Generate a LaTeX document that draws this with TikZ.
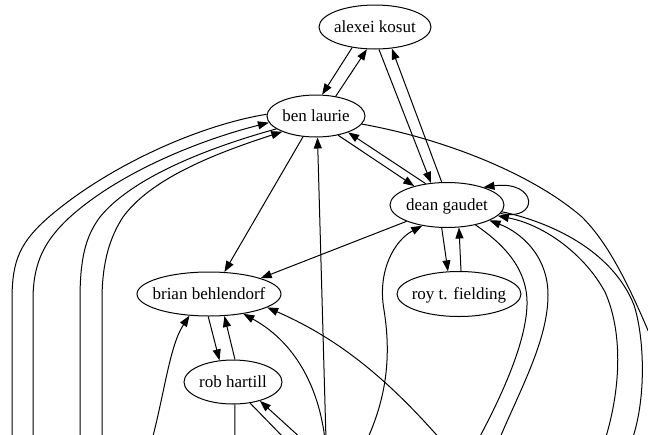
\documentclass[tikz,border=0pt]{standalone}
\usepackage{fontspec}
\setmainfont{Liberation Serif}
\usetikzlibrary{shapes.geometric,arrows.meta}
% zero-width label box so the ellipse size comes only from minimum width/height
\newcommand\persontext[1]{\makebox[0pt]{#1}}
\tikzset{
  person/.style={ellipse, draw, line width=1pt, inner sep=0pt,
    minimum height=44pt, text height=11pt, text depth=0pt,
    font=\fontsize{17}{20}\selectfont},
  link/.style={line width=1pt},
  arr/.style={-{Triangle[length=11pt,width=8pt]}}
}
\begin{document}
\begin{tikzpicture}[x=1pt,y=-1pt]
\useasboundingbox (0,0) rectangle (648,434);
\clip (0,0) rectangle (648,434);

% people
\node[person, minimum width=112pt] (alexei) at (375,27)  {\persontext{alexei kosut}};
\node[person, minimum width=98pt, minimum height=42pt] (ben) at (316,116) {\persontext{ben laurie}};
\node[person, minimum width=114pt, minimum height=45pt] (dean) at (447,205) {\persontext{dean gaudet}};
\node[person, minimum width=144pt] (brian) at (209,294) {\persontext{brian behlendorf}};
\node[person, minimum width=124pt, minimum height=45pt] (roy) at (459,294) {\persontext{roy t. fielding}};
\node[person, minimum width=98pt] (rob) at (233,382) {\persontext{rob hartill}};

% loose ends below and right of the frame
\coordinate (o1) at (12,440);
\coordinate (o2) at (33,440);
\coordinate (o3) at (80,440);
\coordinate (o4) at (102,440);
\coordinate (o5) at (152,440);
\coordinate (o6) at (235,440);
\coordinate (o7) at (286,440);
\coordinate (o8) at (303,440);
\coordinate (o9) at (325,440);
\coordinate (o10) at (326,440);
\coordinate (o11) at (367,440);
\coordinate (o12) at (441,440);
\coordinate (o13) at (478,440);
\coordinate (o14) at (499,440);
\coordinate (o15) at (605,440);
\coordinate (o16) at (632,440);
\coordinate (o17) at (652,340);

% alexei <-> ben, alexei <-> dean
\draw[link,arr] (alexei.-138) -- (ben.74);
\draw[link,arr] (ben.45) -- (alexei.-110);
\draw[link,arr] (alexei.-80) -- (dean.126);
\draw[link,arr] (dean.103) -- (alexei.-52);

% ben <-> dean
\draw[link,arr] (ben.-41) -- (dean.150);
\draw[link,arr] (dean.135) -- (ben.-27);

% dean to itself
\draw[link,arr] (dean.-9) .. controls (540,222) and (538,180) .. (dean.26);

% dean <-> roy
\draw[link,arr] (dean.-103) -- (roy.116);
\draw[link,arr] (roy.85) -- (dean.-62);

% into brian
\draw[link,arr] (dean.-158) -- (brian.17);
\draw[link,arr] (ben.-122) -- (brian.55);

% brian <-> rob
\draw[link,arr] (brian.-92) -- (rob.122);
\draw[link,arr] (rob.85) -- (brian.-55);

% ben: long curves to the left
\draw[link] (ben.178) .. controls (200,125) and (110,165) .. (50,216)
  .. controls (20,242) and (12,260) .. (12,300) -- (o1);
\draw[link,arr] (o2) -- (33,300) .. controls (33,262) and (45,240) .. (70,217)
  .. controls (120,172) and (200,140) .. (ben.-172);
\draw[link] (ben.-162) .. controls (200,150) and (130,180) .. (100,217)
  .. controls (85,237) and (80,260) .. (80,300) -- (o3);
\draw[link,arr] (o4) -- (102,300) .. controls (102,262) and (110,237) .. (123,217)
  .. controls (150,180) and (210,155) .. (ben.-155);

% ben: from below and the long arc to the right
\draw[link,arr] (o10) -- (ben.-86);
\draw[link] (ben.-10) .. controls (440,138) and (530,172) .. (582,217)
  .. controls (605,240) and (625,275) .. (o17);

% brian from below
\draw[link,arr] (o5) .. controls (165,390) and (170,345) .. (brian.-132);
\draw[link,arr] (o9) .. controls (320,395) and (300,345) .. (brian.-30);
\draw[link,arr] (o12) .. controls (380,370) and (330,335) .. (brian.-13);

% rob to and from below
\draw[link] (rob.-85) -- (o6);
\draw[link] (rob.-51) -- (o7);
\draw[link,arr] (o8) -- (rob.-35);

% dean to and from below
\draw[link,arr] (o11) .. controls (385,400) and (392,360) .. (384,310)
  .. controls (377,270) and (395,240) .. (dean.-140);
\draw[link] (dean.-35) .. controls (505,245) and (528,270) .. (527,305)
  .. controls (526,340) and (505,390) .. (o13);
\draw[link,arr] (o14) .. controls (520,390) and (548,340) .. (548,295)
  .. controls (548,255) and (520,232) .. (dean.-20);
\draw[link,arr] (o15) .. controls (622,385) and (622,330) .. (605,292)
  .. controls (585,255) and (545,225) .. (dean.-12);
\draw[link] (dean.-7) .. controls (550,222) and (612,250) .. (634,305)
  .. controls (645,340) and (646,400) .. (o16);
\end{tikzpicture}
\end{document}
